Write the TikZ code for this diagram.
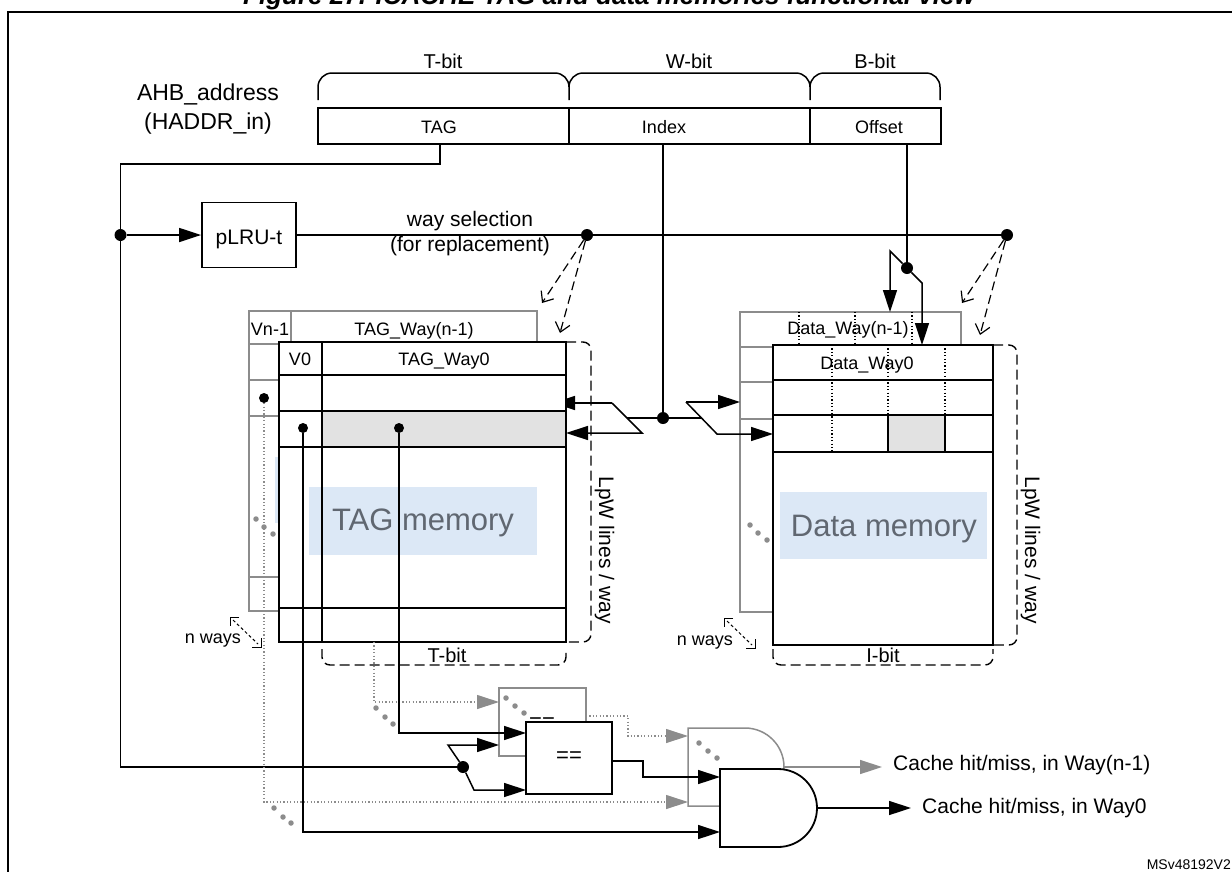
\documentclass[tikz,border=0pt]{standalone}
\usepackage{fontspec}
\setmainfont{Liberation Sans}
\usetikzlibrary{arrows.meta,calc}
\definecolor{gline}{RGB}{140,140,140}
\definecolor{cellgray}{RGB}{226,226,226}
\definecolor{memblue}{RGB}{220,232,246}
\definecolor{memtxt}{RGB}{96,103,113}
\newcommand{\myfs}[1]{\fontsize{#1}{#1}\selectfont}
\tikzset{
  ln/.style={line width=1.5pt},
  bx/.style={line width=1.8pt},
  gbx/.style={line width=1.5pt, draw=gline},
  arr/.style={-{Triangle[length=22pt,width=14pt]}},
  garr/.style={-{Triangle[length=22pt,width=14pt,color=gline,fill=gline]}},
  dsh/.style={line width=1.4pt, dash pattern=on 10pt off 5pt, rounded corners=8pt},
  dasharr/.style={line width=1.2pt, dash pattern=on 9pt off 5pt, -{Straight Barb[length=9pt,width=15pt]}},
  dotg/.style={line width=1.2pt, draw=gline, dash pattern=on 1.2pt off 2.2pt},
  dotk/.style={line width=1.2pt, dash pattern=on 1.2pt off 2.2pt},
  nwd/.style={line width=1pt, dash pattern=on 3pt off 2.5pt},
  jdot/.style={circle, fill=black, inner sep=0pt, minimum size=12pt},
  sdot/.style={circle, fill=black, inner sep=0pt, minimum size=10pt},
  gdot/.style={circle, fill=gline, inner sep=0pt, minimum size=5.5pt},
  txt/.style={inner sep=0pt, font=\myfs{#1}},
}
\begin{document}
\begin{tikzpicture}[x=1pt,y=-1pt]
\useasboundingbox (0,0) rectangle (1232,871);
\clip (0,0) rectangle (1232,871);

% frame and title
\coordinate (frbl) at (8,900); \coordinate (frtl) at (8,12); \coordinate (frtr) at (1260,12);
\draw[line width=2pt] (frbl) -- (frtl) -- (frtr);
\node[anchor=base, inner sep=0pt, font=\myfs{26}\bfseries\itshape] (title) at (609,4.5) {Figure 27. ICACHE TAG and data memories functional view};

% address
\node[txt=23, anchor=base] (ahb) at (208,100) {AHB\_address};
\node[txt=23, anchor=base] (haddr) at (208,129) {(HADDR\_in)};
\draw[bx] (318,108) rectangle (941,144);
\draw[bx] (569,108) -- (569,144);
\draw[bx] (810,108) -- (810,144);
\node[txt=18] (ftag) at (439,127) {TAG};
\node[txt=18] (fidx) at (664,127) {Index};
\node[txt=18] (foff) at (879,127) {Offset};
\draw[ln] (318,100) -- (318,87) to[out=90,in=180] (332,73) -- (555,73) to[out=0,in=90] (569,87) -- (569,100);
\draw[ln] (569,87) to[out=90,in=180] (583,73) -- (796,73) to[out=0,in=90] (810,87) -- (810,100);
\draw[ln] (810,87) to[out=90,in=180] (824,73) -- (926,73) to[out=0,in=90] (940,87) -- (940,100);
\node[txt=20, anchor=base] (lt) at (443,68) {T-bit};
\node[txt=20, anchor=base] (lw) at (689,68) {W-bit};
\node[txt=20, anchor=base] (lb) at (875,68) {B-bit};

% ---------- TAG memory, back way ----------
\draw[gbx, fill=white] (249,311) rectangle (537,611);
\draw[gbx] (249,344) -- (537,344);
\draw[gbx] (249,380) -- (537,380);
\draw[gbx] (249,416) -- (537,416);
\draw[gbx] (249,577) -- (537,577);
\draw[gbx] (291,311) -- (291,344);
\node[txt=18, anchor=base] (vn1) at (270,335) {Vn-1};
\node[txt=18, anchor=base] (tagwn) at (414,335) {TAG\_Way(n-1)};
\fill[memblue] (275,457) rectangle (507,523);
\node[gdot] (gt1) at (256,519) {};
\node[gdot] (gt2) at (264,527) {};
\node[gdot] (gt3) at (273,534) {};
\node[sdot] (bvdot) at (264,398) {};

% index split towards TAG (upper branch goes under the front way)
\coordinate (ts_u) at (612,403); \coordinate (ts_l) at (642,433); \coordinate (ts_m) at (627,418);
\coordinate (ts_ut) at (553,403); \coordinate (ts_lt) at (566,433);
\draw[ln,arr] (ts_u) -- (ts_ut);

% ---------- TAG memory, way 0 ----------
\draw[bx, fill=white] (279,342) rectangle (566,642);
\fill[memblue] (309,487) rectangle (537,555);
\fill[cellgray] (322,411) rectangle (566,447);
\draw[bx] (279,375) -- (566,375);
\draw[bx] (279,411) -- (566,411);
\draw[bx] (279,447) -- (566,447);
\draw[bx] (279,608) -- (566,608);
\draw[bx] (322,342) -- (322,642);
\draw[bx] (279,342) rectangle (566,642);
\node[txt=18, anchor=base] (v0) at (300,365) {V0};
\node[txt=18, anchor=base] (tagw0) at (444,365) {TAG\_Way0};
\node[txt=31, anchor=base, text=memtxt] (tagmem) at (423,530) {TAG memory};
\node[sdot] (v0dot) at (303,428) {};
\node[sdot] (tgdot) at (399,428) {};
\draw[dsh] (566,342) -- (591,342) -- (591,642) -- (566,642);
\node[txt=21, rotate=-90, anchor=base] (lpw1) at (599,550) {LpW lines / way};
\draw[dsh] (322,649) -- (322,665) -- (566,665) -- (566,649);
\node[txt=20, anchor=base] (tbit2) at (447,662) {T-bit};

% n ways (TAG)
\node[txt=18, anchor=base] (nw1) at (213,643) {n ways};
\coordinate (na1) at (230,617); \coordinate (na2) at (261,647);
\draw[nwd] ($(na1)+(3,3)$) -- ($(na2)+(-3,-3)$);
\draw[line width=1pt] ($(na1)+(9,0)$) -- (na1) -- ($(na1)+(0,9)$);
\draw[line width=1pt] ($(na2)+(-9,0)$) -- (na2) -- ($(na2)+(0,-9)$);

% ---------- Data memory, back way ----------
\draw[gbx, fill=white] (740,312) rectangle (961,612);
\draw[gbx] (740,347) -- (961,347);
\draw[gbx] (740,382) -- (961,382);
\draw[gbx] (740,419) -- (961,419);
\draw[dotk] (799,312) -- (799,419);
\draw[dotk] (855,312) -- (855,419);
\draw[dotk] (912,312) -- (912,419);
\node[txt=18, anchor=base] (datawn) at (848,334) {Data\_Way(n-1)};
\node[gdot] (gd1) at (750,525) {};
\node[gdot] (gd2) at (758,533) {};
\node[gdot] (gd3) at (767,540) {};

% ---------- Data memory, way 0 ----------
\draw[bx, fill=white] (773,345) rectangle (993,645);
\fill[memblue] (780,492) rectangle (987,559);
\fill[cellgray] (888,415) rectangle (945,452);
\draw[bx] (773,380) -- (993,380);
\draw[bx] (773,415) -- (993,415);
\draw[bx] (773,452) -- (993,452);
\draw[dotk] (832,345) -- (832,452);
\draw[dotk] (888,345) -- (888,415);
\draw[dotk] (945,345) -- (945,415);
\draw[bx] (888,415) -- (888,452);
\draw[bx] (945,415) -- (945,452);
\draw[bx] (773,345) rectangle (993,645);
\node[txt=18, anchor=base] (dataw0) at (867,369) {Data\_Way0};
\node[txt=31, anchor=base, text=memtxt] (datamem) at (884,536) {Data memory};
\draw[dsh] (993,345) -- (1017,345) -- (1017,645) -- (993,645);
\node[txt=21, rotate=-90, anchor=base] (lpw2) at (1025,550) {LpW lines / way};
\draw[dsh] (773,649) -- (773,665) -- (993,665) -- (993,649);
\node[txt=20, anchor=base] (ibit) at (883,662) {I-bit};

% n ways (Data)
\node[txt=18, anchor=base] (nw2) at (705,645) {n ways};
\coordinate (nb1) at (724,618); \coordinate (nb2) at (755,648);
\draw[nwd] ($(nb1)+(3,3)$) -- ($(nb2)+(-3,-3)$);
\draw[line width=1pt] ($(nb1)+(9,0)$) -- (nb1) -- ($(nb1)+(0,9)$);
\draw[line width=1pt] ($(nb2)+(-9,0)$) -- (nb2) -- ($(nb2)+(0,-9)$);

% ---------- TAG field path and pLRU ----------
\coordinate (tagout) at (440,144);
\coordinate (tl2) at (120.5,164);
\node[jdot] (jd1) at (120.5,235) {};
\node[jdot] (cmpsplit) at (463,767) {};
\draw[ln] (tagout) |- (tl2) |- (cmpsplit);
\node[draw, bx, minimum width=94pt, minimum height=65pt, inner sep=0pt] (plru) at (249,235) {};
\node[txt=21, anchor=base] (plrut) at (249,244) {pLRU-t};
\draw[ln,arr] (jd1) -- (plru.west);
\node[jdot] (ws1) at (587,235) {};
\node[jdot] (ws2) at (1007,235) {};
\draw[ln] (plru.east) -- (ws2);
\node[txt=21, anchor=base] (wsl1) at (470,226) {way selection};
\node[txt=21, anchor=base] (wsl2) at (470,251) {(for replacement)};
\coordinate (wa1) at (542,303); \coordinate (wa2) at (560,333);
\coordinate (wb1) at (962,303); \coordinate (wb2) at (980,335);
\draw[dasharr] (ws1) -- (wa1);
\draw[dasharr] (ws1) -- (wa2);
\draw[dasharr] (ws2) -- (wb1);
\draw[dasharr] (ws2) -- (wb2);

% ---------- Index ----------
\coordinate (idxout) at (663,144);
\node[jdot] (idxdot) at (663,418) {};
\draw[ln] (idxout) -- (idxdot);
\draw[ln] (idxdot) -- (ts_m);
\draw[ln,arr] (ts_u) -- (ts_l) -- (ts_lt);
\coordinate (ds_u) at (686,402); \coordinate (ds_l) at (717,434); \coordinate (ds_m) at (701.5,418);
\coordinate (ds_ut) at (740,402); \coordinate (ds_lt) at (773,434);
\draw[ln] (idxdot) -- (ds_m);
\draw[ln,arr] (ds_u) -- (ds_ut);
\draw[ln,arr] (ds_u) -- (ds_l) -- (ds_lt);

% ---------- Offset ----------
\coordinate (offout) at (907,144);
\node[jdot] (offdot) at (907,268) {};
\draw[ln] (offout) -- (offdot);
\coordinate (os_a) at (890,251); \coordinate (os_at) at (890,312);
\coordinate (os_b) at (922,283); \coordinate (os_bt) at (922,345);
\draw[ln,arr] (offdot) -- (os_a) -- (os_at);
\draw[ln,arr] (offdot) -- (os_b) -- (os_bt);

% ---------- comparators ----------
\draw[gbx, fill=white] (499,688) rectangle (586,756);
\node[txt=22] (beq) at (542,723) {==};
\node[gdot] (gc1) at (506,698) {};
\node[gdot] (gc2) at (515,706) {};
\node[gdot] (gc3) at (524,713) {};
\draw[bx, fill=white] (526,722) rectangle (612,794);
\node[txt=22] (feq) at (569,757) {==};

\coordinate (bt1) at (374,642); \coordinate (bcin1) at (499,702);
\draw[dotg, garr] (bt1) |- (bcin1);
\node[gdot] (gl1) at (376,708) {};
\node[gdot] (gl2) at (385,717) {};
\node[gdot] (gl3) at (393,724) {};
\coordinate (tsplu) at (448,745); \coordinate (bcin2) at (499,745);
\coordinate (tspll) at (474,790); \coordinate (fcin2) at (526,790);
\draw[ln,arr] (cmpsplit) -- (tsplu) -- (bcin2);
\draw[ln,arr] (cmpsplit) -- (tspll) -- (fcin2);
\coordinate (fcin1) at (526,733);
\draw[ln,arr] (tgdot) |- (fcin1);

% ---------- AND gates ----------
\draw[gbx, fill=white] (688,728) -- (745,728) arc[start angle=90, end angle=-90, radius=39pt] -- (688,806) -- cycle;
\node[gdot] (ga1) at (699,743) {};
\node[gdot] (ga2) at (708,751) {};
\node[gdot] (ga3) at (717,758) {};
\coordinate (bain1) at (688,736); \coordinate (bain2) at (688,802);
\coordinate (bcout) at (586,716);
\draw[dotg, garr] (bcout) -- (628,716) -- (628,736) -- (bain1);
\draw[dotg, garr] (bvdot) |- (bain2);
\node[gdot] (gb1) at (274,808) {};
\node[gdot] (gb2) at (283,817) {};
\node[gdot] (gb3) at (291,823) {};

\draw[bx, fill=white] (720,769) -- (778,769) arc[start angle=90, end angle=-90, radius=39pt] -- (720,847) -- cycle;
\coordinate (fain1) at (720,777); \coordinate (fain2) at (720,832);
\coordinate (fcout) at (612,761);
\draw[ln,arr] (fcout) -- (643,761) -- (643,777) -- (fain1);
\draw[ln,arr] (v0dot) |- (fain2);

% outputs
\coordinate (bgout) at (784,767); \coordinate (bgtip) at (882,767);
\draw[gbx, garr] (bgout) -- (bgtip);
\node[txt=21, anchor=base west] (hit1) at (893,770) {Cache hit/miss, in Way(n-1)};
\coordinate (fgout) at (817,808); \coordinate (fgtip) at (911,808);
\draw[ln,arr] (fgout) -- (fgtip);
\node[txt=21, anchor=base west] (hit0) at (922,813) {Cache hit/miss, in Way0};
\node[txt=14, anchor=base east] (msv) at (1231,869) {MSv48192V2};
\end{tikzpicture}
\end{document}
